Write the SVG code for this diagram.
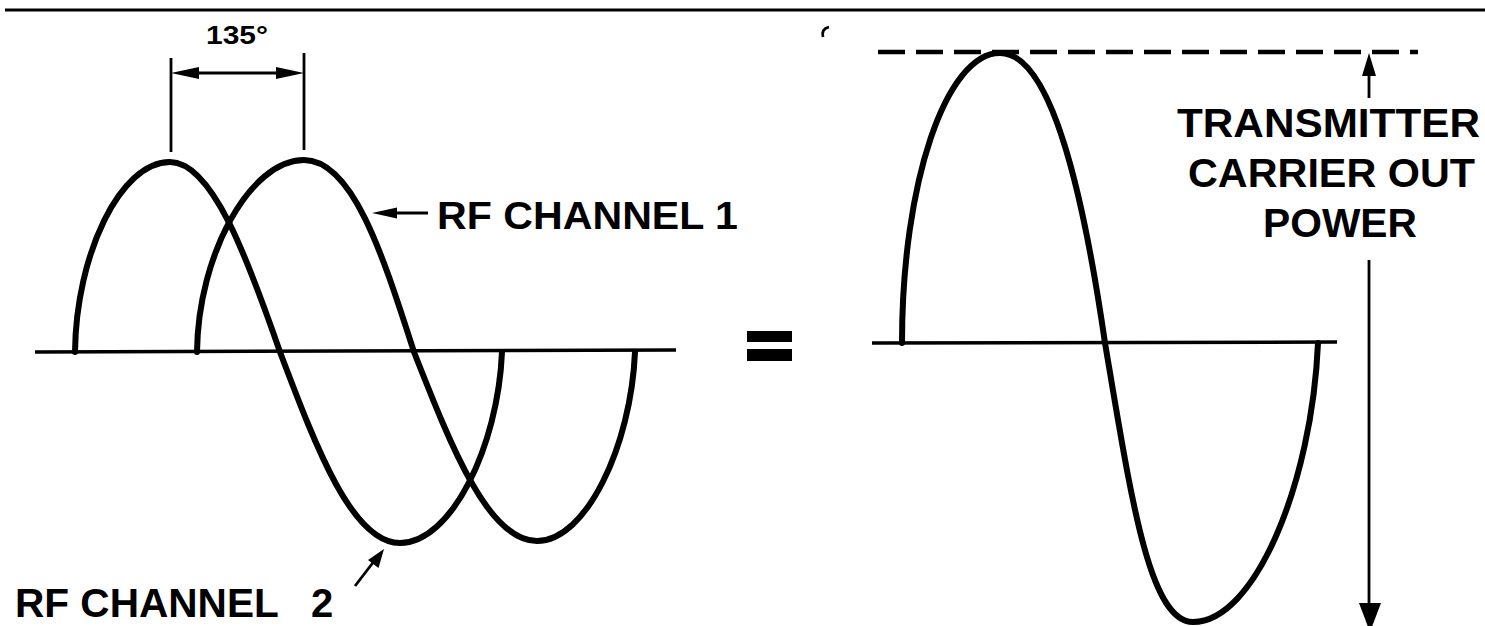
<svg xmlns="http://www.w3.org/2000/svg" width="1485" height="626" viewBox="0 0 1485 626">
<style>
.wave{fill:none;stroke:#000;stroke-width:6;stroke-linecap:round;stroke-linejoin:round}
.axis{fill:none;stroke:#000;stroke-width:3.5}
.thin{fill:none;stroke:#000;stroke-width:2.8}
.head{fill:#000;stroke:none}
.lbl{font-family:"Liberation Sans",Arial,Helvetica,sans-serif;font-weight:bold;fill:#000}
</style>
<rect x="0" y="0" width="1485" height="626" fill="#fff"/>
<line x1="5" y1="10" x2="1485" y2="10" stroke="#000" stroke-width="3"/>

<g id="left-figure">
  <line class="axis" x1="35" y1="352" x2="676" y2="350"/>
  <path id="rf-channel-2-wave" class="wave" d="M75,352 C76,255 120,162 170,162 C212,162 247,257 280,352 C316,447 352,543 400,543 C451,543 498,447 502,352"/>
  <path id="rf-channel-1-wave" class="wave" d="M197,352 C198,255 250,160 304,160 C353,160 383,256 414,352 C451,446 488,541 537,541 C586,541 631,446 635,352"/>
  <g id="phase-dimension">
    <line class="thin" x1="171" y1="58" x2="171" y2="152"/>
    <line class="thin" x1="304" y1="53" x2="304" y2="150"/>
    <line class="thin" x1="190" y1="73" x2="286" y2="73"/>
    <polygon class="head" points="171,73 199,67 199,79"/>
    <polygon class="head" points="304,73 276,67 276,79"/>
    <text class="lbl" x="206" y="44" font-size="26" textLength="62" lengthAdjust="spacingAndGlyphs">135°</text>
  </g>
</g>

<g id="connectors">
  <line class="thin" x1="428" y1="213" x2="385" y2="213"/>
  <polygon class="head" points="372,213 397,207.5 397,218.5"/>
  <line class="thin" x1="355" y1="586" x2="375" y2="560"/>
  <polygon class="head" points="384,549 378.5,568 368,560"/>
  <line class="thin" x1="1369" y1="70" x2="1369" y2="98"/>
  <polygon class="head" points="1369,53 1376,76 1362,76"/>
  <line class="thin" x1="1369" y1="260" x2="1369" y2="610"/>
  <polygon class="head" points="1359,603 1381,603 1370,632"/>
</g>

<g id="label-rf-channel-1">
  <text class="lbl" x="437" y="229" font-size="39" textLength="301" lengthAdjust="spacingAndGlyphs">RF CHANNEL 1</text>
</g>
<g id="label-rf-channel-2">
  <text class="lbl" x="15" y="617" font-size="40"><tspan textLength="263" lengthAdjust="spacingAndGlyphs">RF CHANNEL</tspan> <tspan x="311">2</tspan></text>
</g>

<g id="equals">
  <rect x="747" y="331" width="45" height="11"/>
  <rect x="747" y="349" width="45" height="12"/>
</g>

<g id="right-figure">
  <path class="thin" d="M829,27 Q821,29 823,37" stroke-width="3"/>
  <line x1="878" y1="52" x2="1418" y2="52" stroke="#000" stroke-width="4.5" stroke-dasharray="27 11"/>
  <line class="axis" x1="872" y1="343" x2="1337" y2="342"/>
  <path id="resultant-wave" class="wave" d="M902,343 C902,183 946,53 1000,53 C1052,53 1084,198 1105,343 C1131,497 1149,622 1193,622 C1255,622 1312,483 1318,343"/>
</g>

<g id="label-power">
  <text class="lbl" x="1177" y="137" font-size="40" textLength="303" lengthAdjust="spacingAndGlyphs">TRANSMITTER</text>
  <text class="lbl" x="1188" y="187" font-size="40" textLength="287" lengthAdjust="spacingAndGlyphs">CARRIER OUT</text>
  <text class="lbl" x="1263" y="237" font-size="40" textLength="154" lengthAdjust="spacingAndGlyphs">POWER</text>
</g>
</svg>
